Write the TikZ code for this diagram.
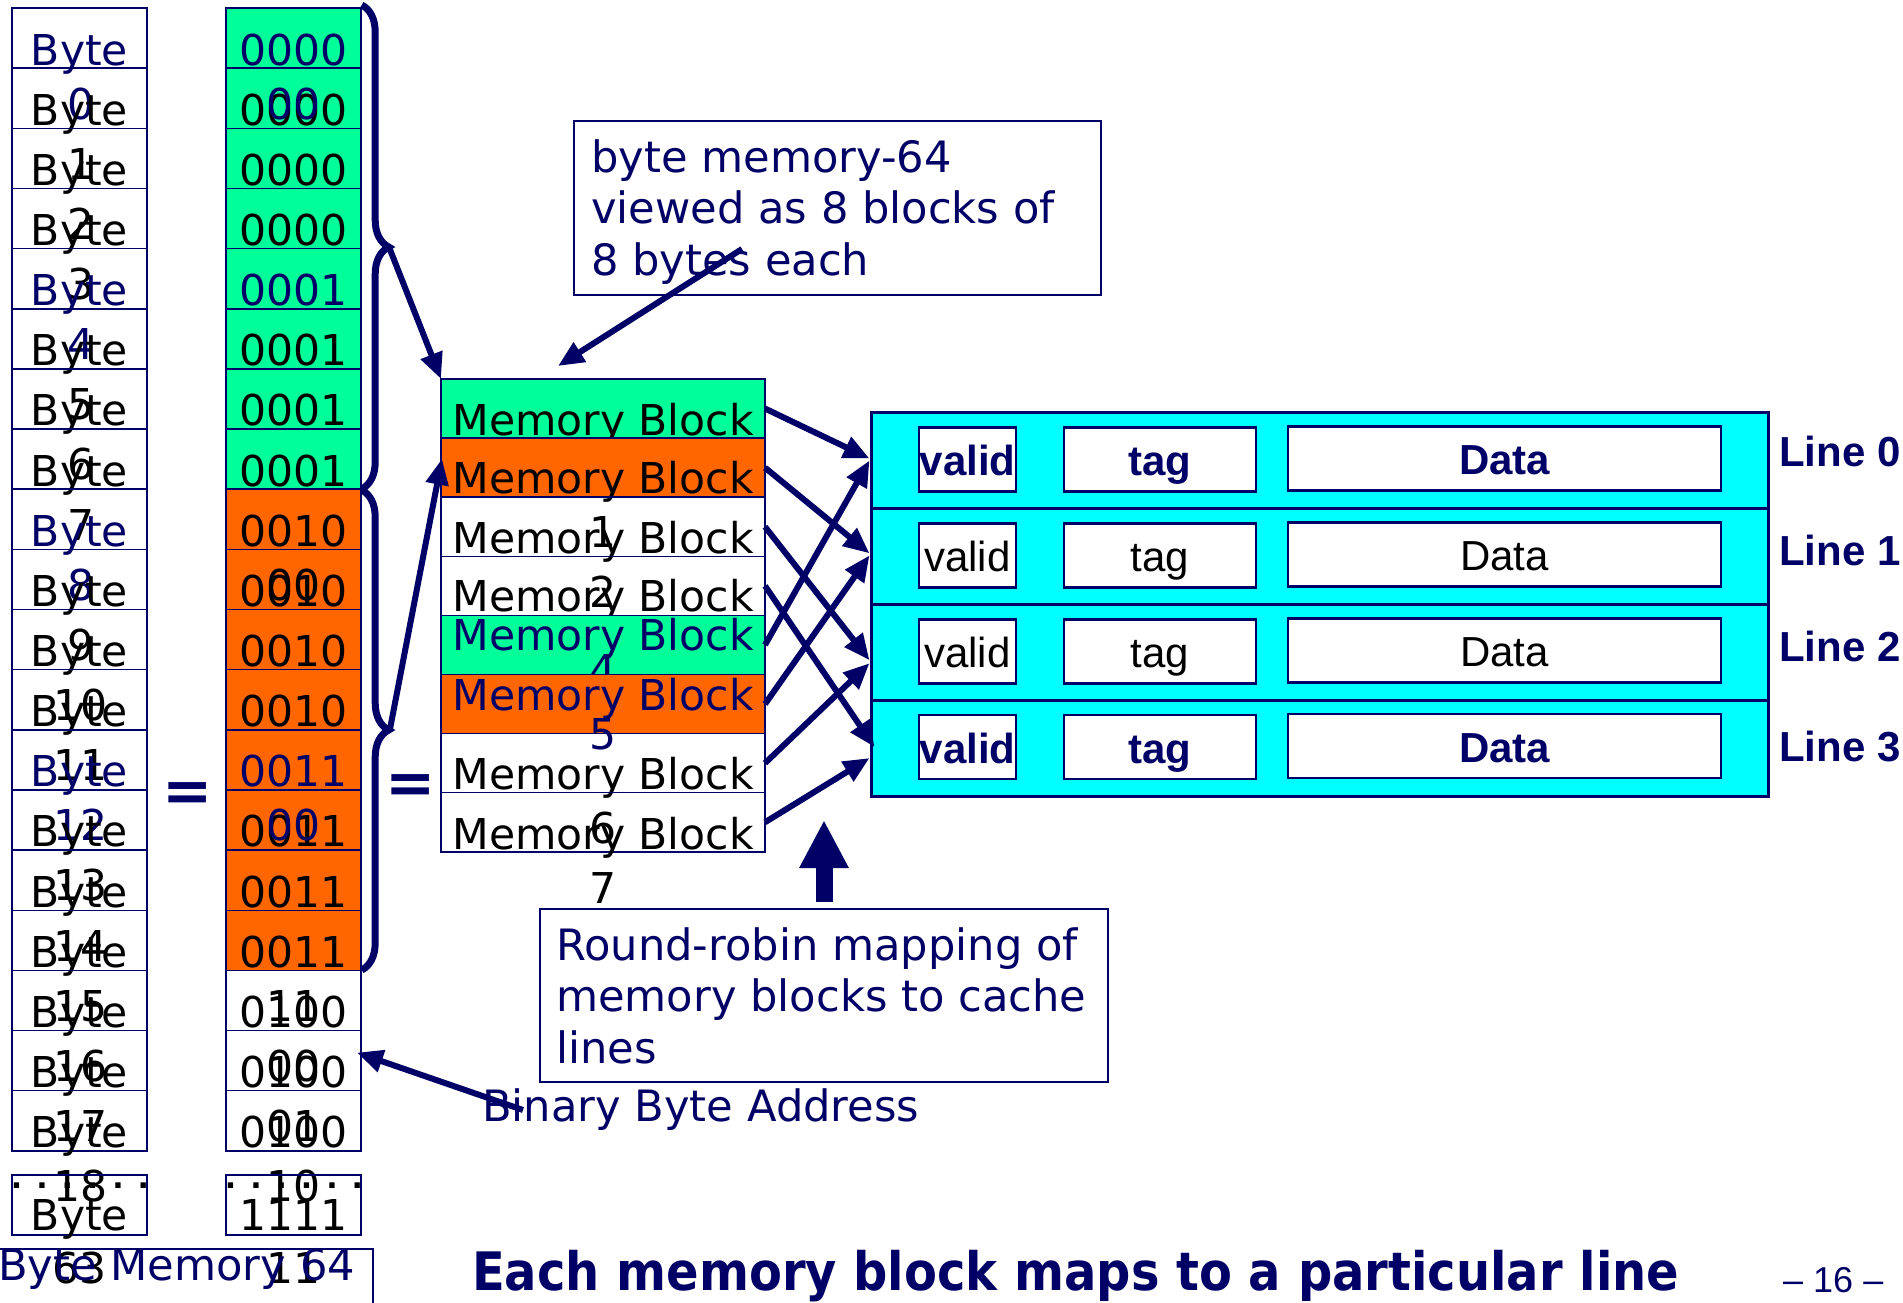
\documentclass[tikz,border=0pt]{standalone}
\usepackage{fontspec}
\setmainfont{DejaVu Sans}
\newfontfamily\arialfont{Liberation Sans}
\usetikzlibrary{arrows.meta,decorations.pathreplacing,calc}
\definecolor{navy}{HTML}{000066}
\definecolor{memgreen}{HTML}{00FF99}
\definecolor{memorange}{HTML}{FF6600}
\definecolor{cachecyan}{HTML}{00FFFF}

\begin{document}
\begin{tikzpicture}[x=1pt,y=-1pt,
  cell/.style={draw=navy, line width=1.5pt, minimum width=135pt, minimum height=60.15pt, inner sep=0pt, outer sep=0pt},
  block/.style={draw=navy, line width=1.5pt, minimum width=324pt, minimum height=59.1pt, inner sep=0pt, outer sep=0pt},
  lbl/.style={anchor=base, inner sep=0pt, font=\fontsize{42.5}{50}\selectfont},
  note/.style={anchor=base west, inner sep=0pt, text=navy, font=\fontsize{43.2}{50}\selectfont},
  notebox/.style={draw=navy, line width=1.2pt, fill=white, inner sep=0pt},
  dots/.style={anchor=base, inner sep=0pt, font=\bfseries\fontsize{30}{30}\selectfont},
  lineframe/.style={draw=navy, line width=3pt, fill=cachecyan, minimum width=897pt, minimum height=95.9pt, inner sep=0pt},
  field/.style={draw=navy, line width=2.5pt, fill=white, minimum height=64pt, inner sep=0pt},
  ctext/.style={anchor=base, inner sep=0pt},
  linelabel/.style={anchor=base west, inner sep=0pt, text=navy, font=\arialfont\bfseries\fontsize{42}{50}\selectfont},
  flow/.style={draw=navy, line width=6pt, -{Triangle[length=26pt,width=22pt]}},
  bracestyle/.style={draw=navy, line width=7pt, decorate, decoration={brace, amplitude=27pt}},
]
\fill[white] (0,0) rectangle (1903,1302);
\useasboundingbox (0,0) rectangle (1903,1302);

% ---------- byte column ----------
\foreach \k/\c in {0/navy,1/black,2/black,3/black,4/navy,5/black,6/black,7/black,
                   8/navy,9/black,10/black,11/black,12/navy,13/black,14/black,15/black,
                   16/black,17/black,18/black} {
  \pgfmathsetmacro\yt{8+60.15*\k}
  \node[cell] (byte\k) at (79.5,{\yt+30.075}) {};
  \node[lbl,text=\c] (bt\k) at (79.5,{\yt+57}) {Byte};
  \node[lbl,text=\c] (bn\k) at (81,{\yt+111}) {\k};
}
\node[cell] (byte63) at (79.5,1205) {};
\node[dots] (bdots) at (80,1188) {. . . . . .};
\node[lbl] (bt63) at (79.5,1230) {Byte};
\node[lbl] (bn63) at (79.5,1283) {63};

% ---------- binary address column ----------
% plain rows: each fill covers the wrapped second line of the row above
\foreach \k/\f/\hi/\lo/\c in {0/memgreen///black,1/memgreen/0000/01/black,2/memgreen/0000/10/black,3/memgreen/0000/11/black,
                           4/memgreen/0001/00/navy,5/memgreen/0001/01/black,6/memgreen/0001/10/black,7/memgreen/0001/11/black,
                           8/memorange///black,9/memorange/0010/01/black,10/memorange/0010/10/black,11/memorange/0010/11/black,
                           12/memorange///black,13/memorange/0011/01/black,14/memorange/0011/10/black,15/memorange/0011/11/black,
                           16/none/0100/00/black,17/none/0100/01/black,18/none/0100/10/black} {
  \pgfmathsetmacro\yt{8+60.15*\k}
  \node[cell,fill=\f] (bin\k) at (293.5,{\yt+30.075}) {};
  \node[lbl,text=\c] (bh\k) at (293.5,{\yt+57}) {\hi};
  \node[lbl,text=\c] (bl\k) at (293.5,{\yt+111}) {\lo};
}
% rows set on top of the column
\foreach \k/\hi/\c in {0/0000/navy,8/0010/black,12/0011/navy} {
  \pgfmathsetmacro\yt{8+60.15*\k}
  \node[lbl,text=\c] (bh\k) at (293.5,{\yt+57}) {\hi};
  \node[lbl,text=\c] (bl\k) at (293.5,{\yt+111}) {00};
}
\node[cell] (bin63) at (293.5,1205) {};
\node[dots] (ddots) at (294,1188) {. . . . . .};
\node[lbl] (bh63) at (293.5,1230) {1111};
\node[lbl] (bl63) at (293.5,1283) {11};

% caption under the two columns
\node[draw=navy, line width=1.2pt, minimum width=376pt, minimum height=80pt, inner sep=0pt] (capbox) at (185,1289) {};
\node[note] (captext) at (-2,1280) {Byte Memory 64};

% equals signs
\node[anchor=base, inner sep=0pt, text=navy, font=\bfseries\fontsize{60}{60}\selectfont] (eq1) at (187.5,811) {=};
\node[anchor=base, inner sep=0pt, text=navy, font=\bfseries\fontsize{60}{60}\selectfont] (eq2) at (411,803) {=};

% braces grouping bytes into blocks
\draw[bracestyle] (361.7,5) -- (361.7,489);
\draw[bracestyle] (361.7,490) -- (361.7,970);
\coordinate (brace1tip) at (389,247);
\coordinate (brace2tip) at (390,729);

% ---------- memory blocks ----------
\foreach \k/\f/\c/\dy/\sp in {0/memgreen/black/56/54, 1/memorange/black/55/54, 2/none/black/56/54, 3/none/black/55.5/54,
                              4/memgreen/navy/35/35, 5/memorange/navy/35.5/39, 6/none/black/56/54, 7/none/black/57/54} {
  \pgfmathsetmacro\yt{379+59.1*\k}
  \node[block,fill=\f] (m\k) at (603,{\yt+29.55}) {};
  \node[lbl,text=\c] (mt\k) at (603,{\yt+\dy}) {Memory Block};
  \node[lbl,text=\c] (mn\k) at (603,{\yt+\dy+\sp}) {\k};
}

\draw[flow] (brace1tip) -- (m0.north west);
\draw[flow] (brace2tip) -- ($(m1.west)+(1,-9)$);

% ---------- cache lines ----------
\foreach \k/\st/\c in {0/\bfseries/navy, 1/\mdseries/black, 2/\mdseries/black, 3/\bfseries/navy} {
  \pgfmathsetmacro\yt{412.6+95.85*\k}
  \node[lineframe] (line\k) at (1319.5,{\yt+47.9}) {};
  \node[field,minimum width=97pt] (valid\k) at (967.5,{\yt+47}) {};
  \node[field,minimum width=192pt] (tag\k) at (1160,{\yt+47}) {};
  \node[field,minimum width=433pt] (data\k) at (1504.5,{\yt+46}) {};
  \node[ctext,text=\c,font={\arialfont\st\fontsize{42}{50}\selectfont}] (vt\k) at (967.5,{\yt+63}) {valid};
  \node[ctext,text=\c,font={\arialfont\st\fontsize{42}{50}\selectfont}] (tt\k) at (1160,{\yt+63}) {tag};
  \node[ctext,text=\c,font={\arialfont\st\fontsize{42}{50}\selectfont}] (dt\k) at (1504.5,{\yt+62}) {Data};
}
\node[linelabel] (ln0) at (1779,466.7) {Line 0};
\node[linelabel] (ln1) at (1779,565) {Line 1};
\node[linelabel] (ln2) at (1779,661.7) {Line 2};
\node[linelabel] (ln3) at (1779,761.7) {Line 3};

% round-robin mapping of blocks to lines
\draw[flow] (m0.east) -- ($(line0.west)+(0,-2)$);
\draw[flow] (m1.east) -- ($(line1.west)+(0,-3)$);
\draw[flow] (m2.east) -- ($(line2.west)+(0,8)$);
\draw[flow] (m3.east) -- ($(line3.west)+(5,-1)$);
\draw[flow] (m4.east) -- ($(line0.west)+(0,0)$);
\draw[flow] (m5.east) -- ($(line1.west)+(0,-1)$);
\draw[flow] (m6.east) -- ($(line2.west)+(0,11)$);
\draw[flow] (m7.east) -- ($(line3.west)+(0,10)$);

% ---------- notes ----------
\node[notebox,minimum width=527pt,minimum height=174pt] (note1) at (837.5,208) {};
\node[note] (n1a) at (591,172.7) {byte memory-64};
\node[note] (n1b) at (591,223.3) {viewed as 8 blocks of};
\node[note] (n1c) at (591,275) {8 bytes each};
\coordinate (n1tail) at (742,249);
\draw[flow] (n1tail) -- ($(m0.north)+(-45,-13)$);

\node[notebox,minimum width=568pt,minimum height=173pt] (rr) at (824,995.5) {};
\node[note] (rra) at (556,960) {Round-robin mapping of};
\node[note] (rrb) at (556,1011.7) {memory blocks to cache};
\node[note] (rrc) at (556,1063.3) {lines};
\coordinate (uptip) at (824,820);
\draw[navy, line width=17pt, -{Triangle[length=48pt,width=46pt]}] ($(rr.north)+(0,-6)$) -- (uptip);

\node[note] (bba) at (482,1121.7) {Binary Byte Address};
\coordinate (bbatail) at (523,1110);
\draw[flow] (bbatail) -- ($(bin17.east)+(-4,-8)$);

% ---------- footer ----------
\node[anchor=base west, inner sep=0pt, text=navy, xscale=0.905, font=\bfseries\fontsize{53}{60}\selectfont] (title) at (472,1290) {Each memory block maps to a particular line};
\node[anchor=base west, inner sep=0pt, text=navy, font=\arialfont\fontsize{36}{40}\selectfont] (page) at (1783,1292) {– 16 –};
\end{tikzpicture}
\end{document}
